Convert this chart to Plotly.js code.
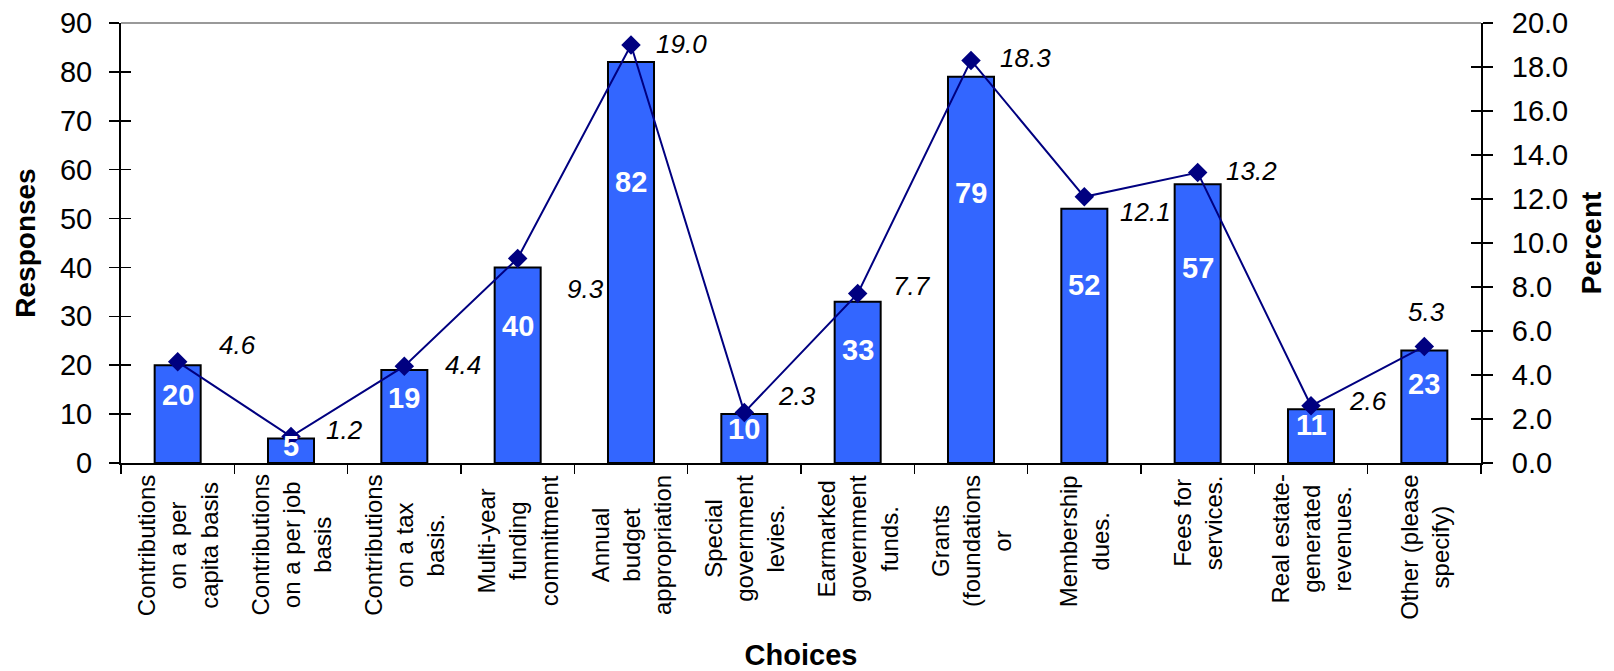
<!DOCTYPE html>
<html>
<head>
<meta charset="utf-8">
<script src="https://cdn.plot.ly/plotly-3.0.1.min.js"></script>
<style>
  html, body { margin: 0; padding: 0; background: #fff; }
  #chart { width: 1614px; height: 671px; }
</style>
</head>
<body>
<div id="chart"></div>
<script>
// ---- data ----
const categories = [
  "Contributions<br>on a per<br>capita basis",
  "Contributions<br>on a per job<br>basis",
  "Contributions<br>on a tax<br>basis.",
  "Multi-year<br>funding<br>commitment",
  "Annual<br>budget<br>appropriation",
  "Special<br>government<br>levies.",
  "Earmarked<br>government<br>funds.",
  "Grants<br>(foundations<br>or",
  "Membership<br>dues.",
  "Fees for<br>services.",
  "Real estate-<br>generated<br>revenues.",
  "Other (please<br>specify)"
];
const responses = [20, 5, 19, 40, 82, 10, 33, 79, 52, 57, 11, 23];
const percents = [4.6, 1.2, 4.4, 9.3, 19.0, 2.3, 7.7, 18.3, 12.1, 13.2, 2.6, 5.3];

const yTitle = "Responses";
const y2Title = "Percent";
const xTitle = "Choices";

// ---- style ----
const FONT = "Liberation Sans, Arial, Helvetica, sans-serif";
const BAR_COLOR = "#3366FF";
const LINE_COLOR = "#000080";
// per-point label offsets for percent labels (pixels: dx right, dy down)
const pctDX = [60, 53, 59, 68, 50, 53, 54, 54, 61, 54, 57, 2];
const pctDY = [-17, -7, -1, 31, -1, -16, -8, -2, 15, -2, -5, -34];
const barLabelFrac = 0.7;

const xIdx = categories.map((_, i) => i);

const bars = {
  type: "bar",
  x: xIdx,
  y: responses,
  marker: { color: BAR_COLOR, line: { color: "#000", width: 2 } },
  hoverinfo: "skip",
  showlegend: false,
  yaxis: "y"
};

const line = {
  type: "scatter",
  mode: "lines+markers",
  x: xIdx,
  y: percents,
  yaxis: "y2",
  line: { color: LINE_COLOR, width: 2 },
  marker: { symbol: "diamond", size: 15, color: LINE_COLOR },
  hoverinfo: "skip",
  showlegend: false
};

const annotations = [];
categories.forEach((c, i) => {
  annotations.push({
    x: i, xref: "x", y: 0, yref: "paper",
    yanchor: "top", xanchor: "center", yshift: -10,
    text: c, textangle: -90, align: "center", showarrow: false,
    font: { family: FONT, size: 24, color: "#000" }
  });
  annotations.push({
    x: i, xref: "x", y: responses[i] * barLabelFrac, yref: "y",
    xanchor: "center", yanchor: "middle",
    text: "<b>" + responses[i] + "</b>", showarrow: false,
    font: { family: FONT, size: 29, color: "#fff" }
  });
  annotations.push({
    x: i, xref: "x", y: percents[i], yref: "y2",
    xanchor: "center", yanchor: "middle",
    xshift: pctDX[i], yshift: -pctDY[i],
    text: "<i>" + percents[i].toFixed(1) + "</i>", showarrow: false,
    font: { family: FONT, size: 26, color: "#000" }
  });
});

const axCommon = {
  showgrid: false, zeroline: false, showline: true,
  linecolor: "#000", linewidth: 2, tickcolor: "#000", tickwidth: 1.5
};

const layout = {
  width: 1614, height: 671,
  margin: { l: 121, r: 133, t: 23, b: 208 },
  paper_bgcolor: "#fff", plot_bgcolor: "#fff",
  font: { family: FONT, color: "#000" },
  bargap: 0.594,
  showlegend: false,
  xaxis: Object.assign({}, axCommon, {
    type: "linear", range: [-0.5, categories.length - 0.5],
    tickmode: "array",
    tickvals: categories.map((_, i) => i - 0.5).concat([categories.length - 0.5]),
    ticks: "outside", ticklen: 9, showticklabels: false,
    title: { text: "<b>" + xTitle + "</b>", font: { family: FONT, size: 29 }, standoff: 172 }
  }),
  yaxis: Object.assign({}, axCommon, {
    range: [0, 90], dtick: 10, tick0: 0,
    ticks: "outside", ticklen: 10,
    tickfont: { family: FONT, size: 29 },
    ticklabelstandoff: 11,
    title: { text: "<b>" + yTitle + "</b>", font: { family: FONT, size: 28 }, standoff: 16 }
  }),
  yaxis3: {
    overlaying: "y", side: "left", range: [0, 90], dtick: 10, tick0: 0,
    ticks: "inside", ticklen: 10, tickcolor: "#000", tickwidth: 1.5,
    showticklabels: false, showgrid: false, zeroline: false, showline: false
  },
  yaxis2: Object.assign({}, axCommon, {
    overlaying: "y", side: "right",
    range: [0, 20], dtick: 2, tick0: 0, tickformat: ".1f",
    ticks: "outside", ticklen: 10,
    tickfont: { family: FONT, size: 29 },
    ticklabelstandoff: 13,
    title: { text: "<b>" + y2Title + "</b>", font: { family: FONT, size: 28 }, standoff: 14 }
  }),
  yaxis4: {
    overlaying: "y", side: "right", range: [0, 20], dtick: 2, tick0: 0,
    ticks: "inside", ticklen: 10, tickcolor: "#000", tickwidth: 1.5,
    showticklabels: false, showgrid: false, zeroline: false, showline: false
  },
  shapes: [{
    type: "line", xref: "paper", yref: "paper",
    x0: 0, x1: 1, y0: 1, y1: 1,
    line: { color: "#999", width: 2 }
  }],
  annotations: annotations
};

// invisible single-point traces to activate the inside-tick overlay axes
const tickLeft = { type: "scatter", x: [0], y: [0], yaxis: "y3", mode: "markers",
  marker: { opacity: 0 }, hoverinfo: "skip", showlegend: false };
const tickRight = { type: "scatter", x: [0], y: [0], yaxis: "y4", mode: "markers",
  marker: { opacity: 0 }, hoverinfo: "skip", showlegend: false };

Plotly.newPlot("chart", [bars, tickLeft, tickRight, line], layout, { staticPlot: true });
</script>
</body>
</html>
